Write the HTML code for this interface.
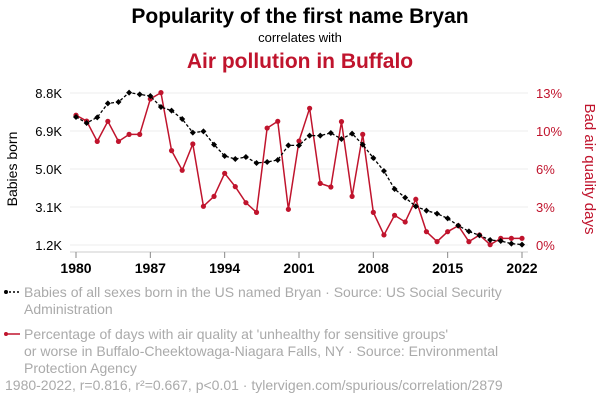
<!DOCTYPE html>
<html><head><meta charset="utf-8"><style>
body{margin:0;background:#fff;width:600px;height:408px;overflow:hidden;font-family:"Liberation Sans",sans-serif}
</style></head><body>
<svg width="600" height="408" xmlns="http://www.w3.org/2000/svg" font-family="Liberation Sans, sans-serif">
<text x="300" y="23" text-anchor="middle" font-size="21" font-weight="bold" fill="#000">Popularity of the first name Bryan</text>
<text x="300" y="42" text-anchor="middle" font-size="13" fill="#000">correlates with</text>
<text x="300" y="68" text-anchor="middle" font-size="21" font-weight="bold" fill="#c0142d">Air pollution in Buffalo</text>
<g id="grid"></g>
<line x1="70" y1="252" x2="528" y2="252" stroke="#ccc"/>
<g id="xt"></g>
<g id="yl"></g>
<g id="yr"></g>
<text transform="translate(17,169) rotate(-90)" text-anchor="middle" font-size="14" fill="#000">Babies born</text>
<text transform="translate(585,169) rotate(90)" text-anchor="middle" font-size="15" fill="#c0142d">Bad air quality days</text>
<g id="series"></g>
<g>
<line x1="5" y1="292" x2="20" y2="292" stroke="#000" stroke-dasharray="2,2" stroke-width="1.5"/><circle cx="6" cy="292" r="2" fill="#000"/>
<text x="24" y="297" font-size="14" fill="#aaa">Babies of all sexes born in the US named Bryan · Source: US Social Security</text>
<text x="24" y="314" font-size="14" fill="#aaa">Administration</text></g>
<g>
<line x1="5" y1="334" x2="20" y2="334" stroke="#c0142d" stroke-width="1.5"/><circle cx="6" cy="334" r="2" fill="#c0142d"/>
<text x="24" y="339" font-size="14" fill="#aaa">Percentage of days with air quality at 'unhealthy for sensitive groups'</text>
<text x="24" y="356" font-size="14" fill="#aaa">or worse in Buffalo-Cheektowaga-Niagara Falls, NY · Source: Environmental</text>
<text x="24" y="373" font-size="14" fill="#aaa">Protection Agency</text></g>
<text x="5" y="390" font-size="14" fill="#aaa">1980-2022, r=0.816, r²=0.667, p&lt;0.01 · tylervigen.com/spurious/correlation/2879</text>
</svg>
<script>
const years=[];for(let y=1980;y<=2022;y++)years.push(y);
const bryan=[7.6,7.3,7.58,8.28,8.35,8.82,8.73,8.65,8.1,7.92,7.5,6.82,6.88,6.22,5.65,5.5,5.6,5.3,5.35,5.45,6.18,6.18,6.67,6.67,6.8,6.5,6.77,6.22,5.55,4.9,4.0,3.57,3.13,2.92,2.77,2.53,2.17,1.88,1.68,1.45,1.4,1.27,1.22];
const air=[11.1,10.6,8.86,10.58,8.86,9.46,9.46,12.49,13.03,8.07,6.39,8.64,3.31,4.16,6.13,4.99,3.62,2.79,10.0,10.58,3.05,8.89,11.69,5.27,4.96,10.55,4.16,9.46,2.79,0.86,2.54,1.97,3.91,1.14,0.29,1.14,1.65,0.29,0.86,0.03,0.57,0.57,0.57];
const leftTicks=[1.2,3.1,5.0,6.9,8.8];
const leftLabels=["1.2K","3.1K","5.0K","6.9K","8.8K"];
const rightTicks=[0,3.25,6.5,9.75,13];
const rightLabels=["0%","3%","6%","10%","13%"];
const xTicks=[1980,1987,1994,2001,2008,2015,2022];
const X=y=>76+(y-1980)*(446/42);
const YL=v=>245-(v-1.2)/7.6*152;
const YR=v=>245-v/13*152;
const NS="http://www.w3.org/2000/svg";
function mk(p,t,a){const e=document.createElementNS(NS,t);for(const k in a)e.setAttribute(k,a[k]);p.appendChild(e);return e;}
const grid=document.getElementById('grid'),xt=document.getElementById('xt'),yl=document.getElementById('yl'),yr=document.getElementById('yr'),s=document.getElementById('series');
leftTicks.forEach((v,i)=>{
 const g=mk(grid,'line',{x1:70,x2:528,y1:YL(v),y2:YL(v),stroke:'#eee'});
 
 
 const t=mk(yl,'text',{x:62,y:YL(v)+5,'text-anchor':'end','font-size':13,fill:'#000'});t.textContent=leftLabels[i];
 
 
});
rightTicks.forEach((v,i)=>{
 const t=mk(yr,'text',{x:536,y:YR(v)+5,'font-size':13,fill:'#c0142d'});t.textContent=rightLabels[i];
 
 
});
xTicks.forEach(y=>{
 mk(xt,'line',{x1:X(y),x2:X(y),y1:252,y2:258,stroke:'#888'});
 const t=mk(xt,'text',{x:X(y),y:273,'text-anchor':'middle','font-size':14,'font-weight':'bold',fill:'#000'});t.textContent=y;
 
 
});
const pa=mk(s,'polyline',{points:air.map((v,i)=>X(years[i])+','+YR(v)).join(' '),fill:'none',stroke:'#c0142d','stroke-width':1.5});


air.forEach((v,i)=>{const c=mk(s,'circle',{cx:X(years[i]),cy:YR(v),r:2.6,fill:'#c0142d'});
 
 });
const pb=mk(s,'polyline',{points:bryan.map((v,i)=>X(years[i])+','+YL(v)).join(' '),fill:'none',stroke:'#000','stroke-width':1.3,'stroke-dasharray':'3,2'});


bryan.forEach((v,i)=>{const x=X(years[i]),y=YL(v),r=3;
 const c=mk(s,'polygon',{points:`${x},${y-r} ${x+r},${y} ${x},${y+r} ${x-r},${y}`,fill:'#000'});
 
 });
</script>
</body></html>
